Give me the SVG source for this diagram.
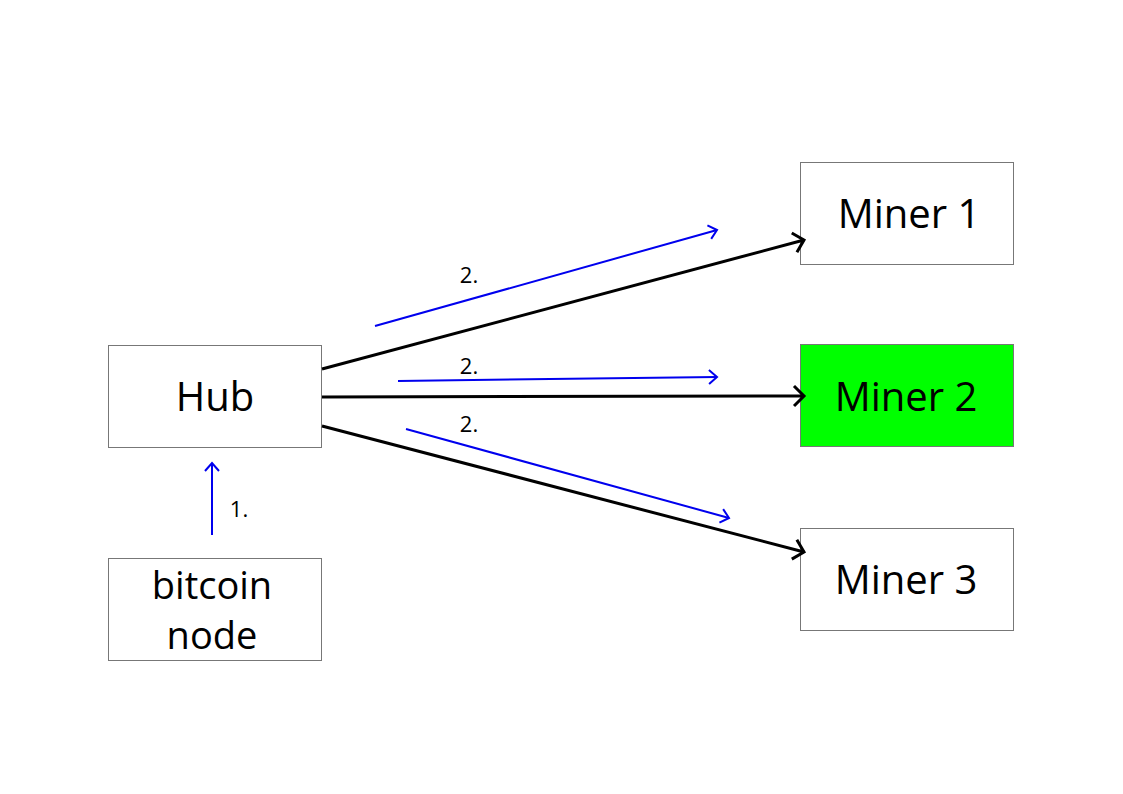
<svg xmlns="http://www.w3.org/2000/svg" width="1123" height="794" viewBox="0 0 1123 794">
<style>
.box{fill:#ffffff;stroke:#777777;stroke-width:1}
.t{font-family:"Open Sans","Noto Sans",sans-serif;font-size:40px;fill:#000;text-anchor:middle}
.t2{font-family:"Open Sans","Noto Sans",sans-serif;font-size:38px;fill:#000;text-anchor:middle}
.l{font-family:"Open Sans","Noto Sans",sans-serif;font-size:22px;fill:#000;text-anchor:middle}
.bk{stroke:#000;stroke-width:3;fill:none;marker-end:url(#ab)}
.bl{stroke:#0000ee;stroke-width:2;fill:none;marker-end:url(#au)}
</style>
<defs>
<marker id="ab" viewBox="-3 -3 16 26" markerWidth="16" markerHeight="26" refX="10" refY="10" orient="auto" markerUnits="userSpaceOnUse">
<path d="M0,0 L10,10 L0,20" fill="none" stroke="#000" stroke-width="3"/>
</marker>
<marker id="au" viewBox="-3 -3 14 22" markerWidth="14" markerHeight="22" refX="8" refY="7" orient="auto" markerUnits="userSpaceOnUse">
<path d="M0,0 L8,7 L0,14" fill="none" stroke="#0000ee" stroke-width="2"/>
</marker>
</defs>
<rect width="1123" height="794" fill="#fff"/>
<g id="hub">
<rect class="box" x="108.5" y="345.5" width="213" height="102"/>
<text class="t" x="215" y="411">Hub</text>
</g>
<g id="bitcoin-node">
<rect class="box" x="108.5" y="558.5" width="213" height="102"/>
<text class="t2" x="212" y="599">bitcoin</text>
<text class="t2" x="212" y="649">node</text>
</g>
<g id="miner1">
<rect class="box" x="800.5" y="162.5" width="213" height="102"/>
<text class="t" x="909" y="228">Miner 1</text>
</g>
<g id="miner2">
<rect class="box" x="800.5" y="344.5" width="213" height="102" style="fill:#00ff00"/>
<text class="t" x="906" y="411">Miner 2</text>
</g>
<g id="miner3">
<rect class="box" x="800.5" y="528.5" width="213" height="102"/>
<text class="t" x="906" y="594">Miner 3</text>
</g>
<g id="connectors">
<line class="bk" x1="322" y1="369" x2="804" y2="240"/>
<line class="bk" x1="322" y1="397" x2="804" y2="396"/>
<line class="bk" x1="322" y1="426" x2="804" y2="552"/>
<line class="bl" x1="375" y1="326" x2="717" y2="230"/>
<line class="bl" x1="398" y1="381" x2="717" y2="377"/>
<line class="bl" x1="406" y1="429" x2="729" y2="518"/>
<line class="bl" x1="212" y1="535" x2="212" y2="463"/>
<text class="l" x="469" y="283">2.</text>
<text class="l" x="469" y="374">2.</text>
<text class="l" x="469" y="432">2.</text>
<text class="l" x="239" y="517">1.</text>
</g>
</svg>
